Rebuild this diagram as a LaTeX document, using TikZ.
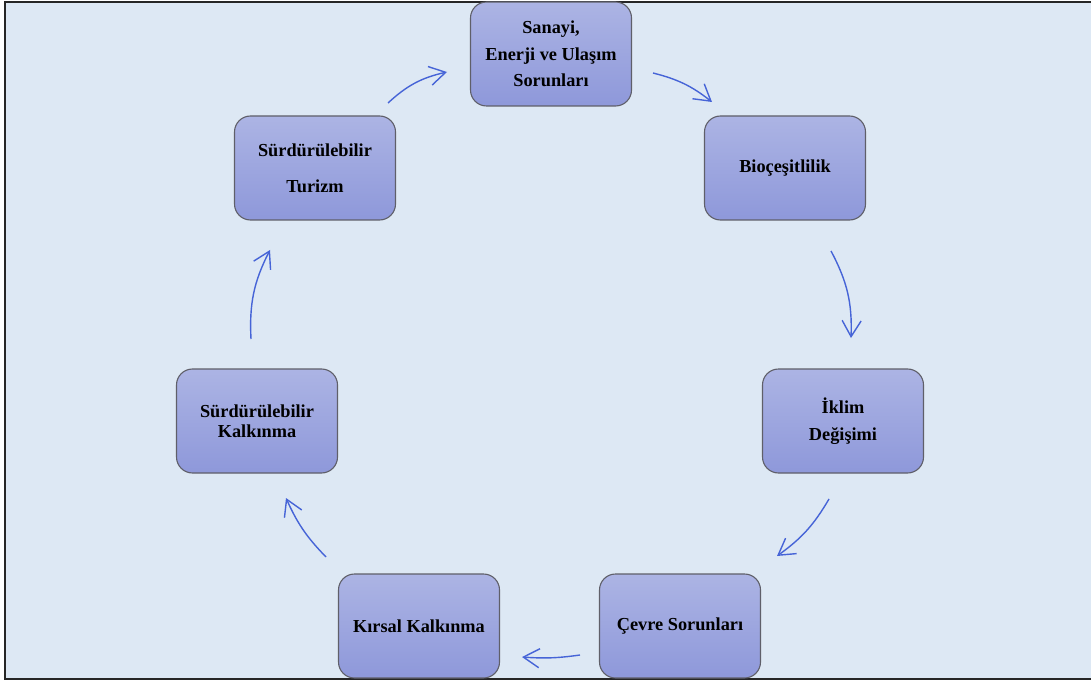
\documentclass[tikz,border=0pt]{standalone}
\usepackage{fontspec}
\setmainfont{Liberation Serif}
\usetikzlibrary{arrows.meta}

\definecolor{paper}{RGB}{221,232,244}
\definecolor{boxtop}{RGB}{172,180,228}
\definecolor{boxbottom}{RGB}{142,152,218}
\definecolor{boxline}{RGB}{95,95,105}
\definecolor{flowblue}{RGB}{70,100,215}

\begin{document}
\begin{tikzpicture}[x=1pt, y=1pt,
    topic/.style={rectangle, rounded corners=16pt, draw=boxline, line width=1.1pt,
        top color=boxtop, bottom color=boxbottom, minimum width=161pt, minimum height=104pt,
        inner sep=0pt, align=center, font=\bfseries\fontsize{18.3}{26.5}\selectfont},
    flow/.style={draw=flowblue, line width=1.4pt, -{Straight Barb[length=16pt, width=19pt, line width=1.4pt]}}]
    \useasboundingbox (0,0) rectangle (1091,681);
    \fill [paper] (5,2) rectangle (1091,679);
    \draw [line width=2.2pt, black!85] (1095,679) -- (5,679) -- (5,2) -- (1095,2);
    % the cycle
    \node [topic] (sanayi) at (551,627) {Sanayi,\\Enerji ve Ulaşım\\Sorunları};
    \node [topic] (bio) at (785,513) {Bioçeşitlilik};
    \node [topic] (iklim) at (843,260) {İklim\\Değişimi};
    \node [topic] (cevre) at (680,55) {Çevre Sorunları};
    \node [topic] (kirsal) at (419,55) {Kırsal Kalkınma};
    \node [topic, font=\bfseries\fontsize{18.3}{20}\selectfont] (kalkinma) at (257,260) {Sürdürülebilir\\Kalkınma};
    \node [topic, font=\bfseries\fontsize{18.3}{36}\selectfont] (turizm) at (315,513) {Sürdürülebilir\\Turizm};
    % arrow ends
    \coordinate (s1) at (653,608); \coordinate (e1) at (712,579);
    \coordinate (s2) at (831,430); \coordinate (e2) at (851,343);
    \coordinate (s3) at (829,182); \coordinate (e3) at (777,125);
    \coordinate (s4) at (580,26);  \coordinate (e4) at (522,24);
    \coordinate (s5) at (326,124); \coordinate (e5) at (286,183);
    \coordinate (s6) at (251,342); \coordinate (e6) at (270,431);
    \coordinate (s7) at (388,578); \coordinate (e7) at (447,609);
    \foreach \s/\e/\b in {s1/e1/12, s2/e2/15, s3/e3/12, s4/e4/6, s5/e5/10, s6/e6/15, s7/e7/15}
        \draw [flow] (\s) to[bend left=\b] (\e);
\end{tikzpicture}
\end{document}
